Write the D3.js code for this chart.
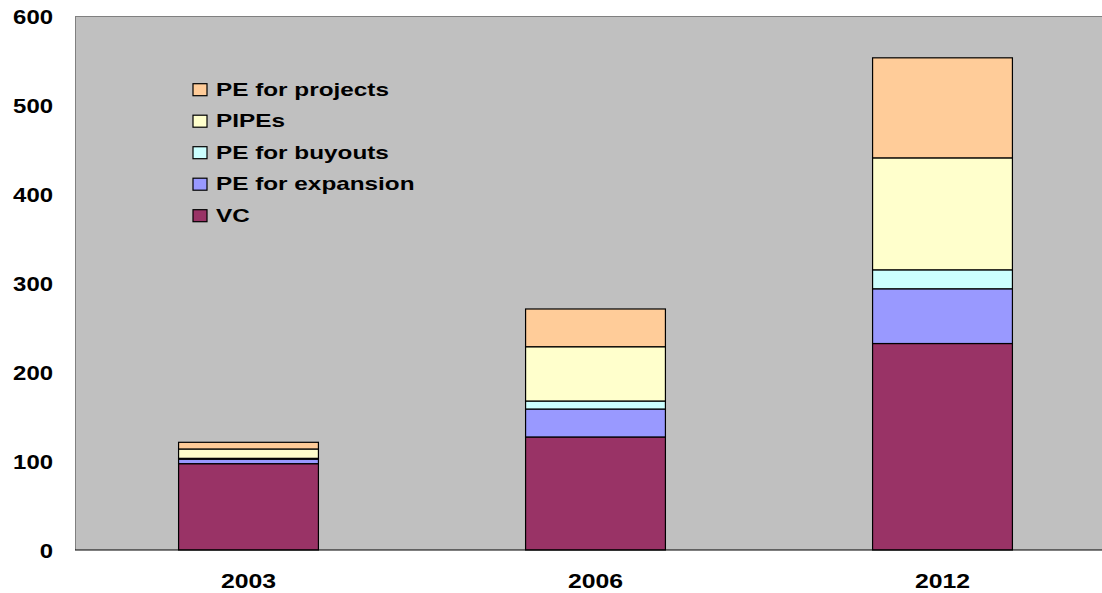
<!DOCTYPE html>
<html><head><meta charset="utf-8">
<script src="https://cdn.jsdelivr.net/npm/d3@7"></script>
<style>body{margin:0;background:#fff;}svg{display:block;font-family:"Liberation Sans",Arial,sans-serif;font-weight:bold;}</style>
</head><body><svg id="c" width="1102" height="593"></svg>
<script>
const years = ["2003","2006","2012"];
const seriesNames = ["VC","PE for expansion","PE for buyouts","PIPEs","PE for projects"];
const vc = [97, 127, 232];
const expansion = [5, 31.4, 61.5];
const buyouts = [1, 9, 21.3];
const pipes = [10.5, 61, 125.8];
const projects = [7.5, 42.4, 112.4];
const colors = ["#993366","#9999FF","#CCFFFF","#FFFFCC","#FFCC99"];
const yTicks = [0,100,200,300,400,500,600];

const svg = d3.select("#c");
const L=75, T=16, B=550, R=1116;
const x = d3.scaleBand().domain(years).range([L,R]).padding(0);
const y = d3.scaleLinear().domain([0,600]).range([B,T]);
const barW = x.bandwidth()*0.403;

svg.append("rect").attr("x",L).attr("y",T).attr("width",R-L).attr("height",B-T).attr("fill","#C0C0C0");
svg.append("line").attr("x1",L).attr("x2",R).attr("y1",T+0.5).attr("y2",T+0.5).attr("stroke","#808080").attr("stroke-width",1);
svg.append("line").attr("x1",L+0.5).attr("x2",L+0.5).attr("y1",T).attr("y2",B).attr("stroke","#808080").attr("stroke-width",1);

const table = years.map((yr,i)=>({year:yr, "VC":vc[i], "PE for expansion":expansion[i], "PE for buyouts":buyouts[i], "PIPEs":pipes[i], "PE for projects":projects[i]}));
const stack = d3.stack().keys(seriesNames)(table);
stack.forEach((s,si)=>{
  svg.append("g").selectAll("rect").data(s).join("rect")
    .attr("x",d=>x(d.data.year)+x.bandwidth()/2-barW/2)
    .attr("y",d=>y(d[1]))
    .attr("width",barW)
    .attr("height",d=>y(d[0])-y(d[1]))
    .attr("fill",colors[si]).attr("stroke","#000").attr("stroke-width",1.2);
});

svg.append("line").attr("x1",L).attr("x2",R).attr("y1",B).attr("y2",B).attr("stroke","#000").attr("stroke-width",1.2);

// y tick labels
svg.append("g").selectAll("text").data(yTicks).join("text")
  .attr("transform",d=>`translate(53,${y(d)+8}) scale(1.14,1)`)
  .attr("text-anchor","end").attr("font-size",21).attr("fill","#000")
  .text(d=>d3.format("d")(d));

// x labels
svg.append("g").selectAll("text").data(years).join("text")
  .attr("transform",d=>`translate(${x(d)+x.bandwidth()/2},${588}) scale(1.18,1)`)
  .attr("text-anchor","middle").attr("font-size",21).attr("fill","#000")
  .text(d=>d);

const legendOrder = seriesNames.slice().reverse();
const lg = svg.append("g");
legendOrder.forEach((n,i)=>{
  const base = 95.7 + i*31.5;
  lg.append("rect").attr("x",193).attr("y",base-12).attr("width",14).attr("height",12)
    .attr("fill",colors[seriesNames.indexOf(n)]).attr("stroke","#000").attr("stroke-width",1.2);
  lg.append("text").attr("transform",`translate(216,${base}) scale(1.28,1)`)
    .attr("font-size",19).attr("fill","#000").text(n);
});
</script></body></html>
